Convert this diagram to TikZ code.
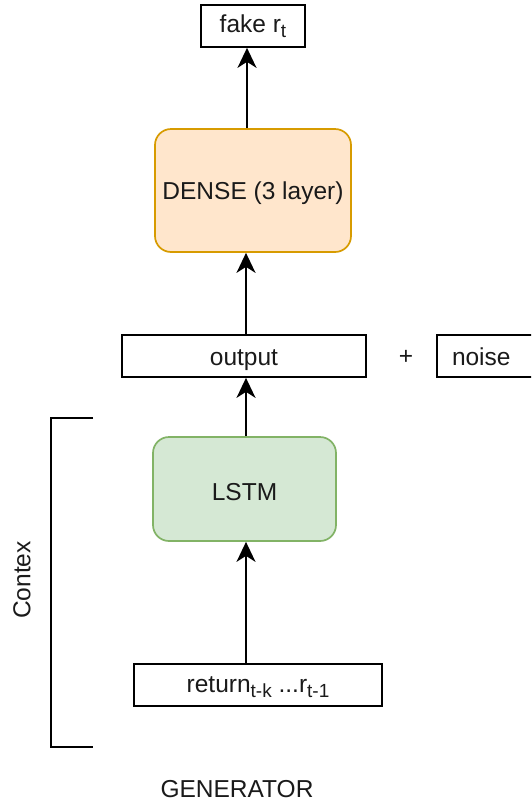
\documentclass[tikz,border=0pt]{standalone}
\usepackage{fontspec}
\setmainfont{Liberation Sans}
\usetikzlibrary{arrows.meta}
\definecolor{denseFill}{HTML}{FFE6CC}
\definecolor{denseLine}{HTML}{D79B00}
\definecolor{lstmFill}{HTML}{D5E8D4}
\definecolor{lstmLine}{HTML}{82B366}
\definecolor{ink}{HTML}{1A1A1A}
% lowered, slightly smaller index text
\newcommand{\lowidx}[1]{\raisebox{-0.4ex}{\fontsize{19}{19}\selectfont #1}}
\begin{document}
\begin{tikzpicture}[x=1pt,y=-1pt,
  every node/.style={font=\fontsize{24.5}{28}\selectfont, text=ink, inner sep=0pt,
    text height=18pt, text depth=0pt},
  plainbox/.style={draw=black, line width=1.7pt, fill=white},
  layerbox/.style={line width=1.7pt, rounded corners=16pt},
  arr/.style={line width=1.9pt, -{Stealth[length=20pt,width=19pt,inset=6pt]}},
  bracketline/.style={line width=1.7pt}]
\clip (0,0) rectangle (531,801);
\fill[white] (0,0) rectangle (531,801);

% blocks
\node[plainbox, minimum width=104pt, minimum height=42pt, text height=12pt] (fake) at (253,26) {fake r\lowidx{t}};
\node[layerbox, draw=denseLine, fill=denseFill, minimum width=196pt, minimum height=123pt] (dense) at (253,190.5) {DENSE (3 layer)};
\node[plainbox, minimum width=244pt, minimum height=42pt] (output) at (244,356) {output};
\node[text height=, text depth=] (plus) at (406,357) {+};
\node[plainbox, minimum width=96pt, minimum height=42pt, text width=90pt, align=left] (noise) at (485,356) {\hspace*{12pt}noise};
\node[layerbox, draw=lstmLine, fill=lstmFill, minimum width=183pt, minimum height=104pt, text height=22pt] (lstm) at (244.5,489) {LSTM};
\node[plainbox, minimum width=248pt, minimum height=42pt, text height=14pt] (ret) at (258,685) {return\lowidx{t-k} ...r\lowidx{t-1}};

% connectors
\coordinate (cx) at (246,0);
\coordinate (tx) at (247,0);
\draw[arr] (ret.north -| cx) -- (lstm.south -| cx);
\draw[arr] (lstm.north -| cx) -- (output.south -| cx);
\draw[arr] (output.north -| cx) -- (dense.south -| cx);
\draw[arr] (dense.north -| tx) -- (fake.south -| tx);

% context bracket
\coordinate (bt) at (93,418);
\coordinate (bb) at (93,747);
\draw[bracketline] (bt) -- (51,418) -- (51,747) -- (bb);
\node[rotate=90, text height=, text depth=] (ctx) at (22,580) {Contex};

% title
\node (gen) at (237,788) {GENERATOR};
\end{tikzpicture}
\end{document}
